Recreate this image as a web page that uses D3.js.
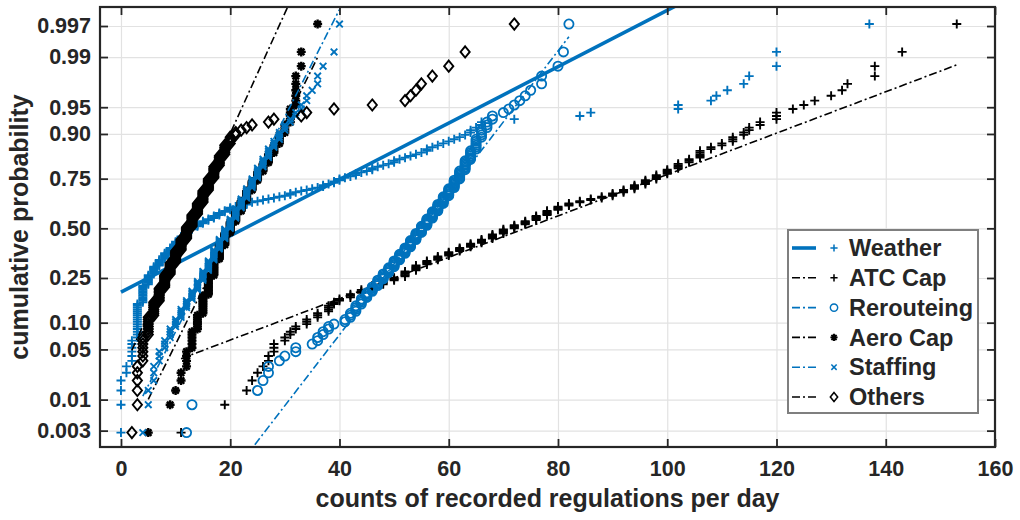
<!DOCTYPE html>
<html>
<head>
<meta charset="utf-8">
<script src="https://cdn.jsdelivr.net/npm/d3@7"></script>
<style>
  html, body { margin: 0; padding: 0; background: #fff; }
  text { font-family: "Liberation Sans", Arial, Helvetica, sans-serif; font-weight: bold; fill: #262626; }
</style>
</head>
<body>
<div id="chart"></div>
<script>
// Normal probability plot of daily regulation counts, one series per cause.
// Each series is kept as [count per day, number of days with that count].

const SERIES_NAMES = ["Weather", "ATC Cap", "Rerouteing", "Aero Cap", "Staffing", "Others"];

const weatherDays = [
  [0,4],[1,2],[2,6],[3,16],[4,12],[5,8],[6,7],[7,6],[8,6],[9,5],[10,6],[11,5],[12,6],
  [13,3],[14,3],[15,3],[16,2],[17,3],[18,3],[19,2],[20,3],[21,1],[22,1],[23,2],[24,1],
  [25,1],[26,1],[27,1],[28,1],[29,1],[30,1],[31,2],[32,1],[33,1],[34,1],[35,1],[36,1],
  [37,2],[38,1],[39,2],[40,2],[41,1],[42,1],[43,2],[44,1],[45,1],[46,2],[47,1],[48,1],
  [49,1],[50,2],[51,1],[52,1],[53,1],[54,1],[55,1],[56,2],[57,1],[58,1],[59,1],[60,1],
  [61,1],[62,1],[63,1],[64,2],[65,1],[66,2],[72,1],[84,1],[86,1],[102,2],[108,1],[109,1],
  [111,1],[114,1],[115,1],[120,2],[137,1]
];

const atcCapDays = [
  [11,1],[19,1],[23,1],[24,1],[25,1],[26,1],[27,2],[28,3],[30,2],[31,2],[32,2],[34,3],
  [36,3],[38,4],[39,2],[40,2],[42,3],[44,3],[46,3],[48,3],[50,3],[52,5],[54,5],[56,4],
  [58,4],[60,4],[62,4],[64,4],[66,4],[68,5],[70,5],[72,4],[74,4],[76,5],[78,5],[80,4],
  [82,3],[84,2],[86,2],[88,2],[90,3],[92,3],[94,4],[96,4],[98,4],[100,4],[102,4],[104,3],
  [106,5],[108,2],[110,2],[112,3],[114,2],[115,2],[117,2],[120,3],[123,1],[125,1],[127,1],
  [130,1],[132,1],[133,1],[138,2],[143,1],[153,1]
];

const reroutingDays = [
  [12,1],[13,1],[25,1],[26,1],[27,2],[29,1],[30,1],[32,2],[35,1],[36,2],[37,2],[38,2],
  [39,1],[41,2],[42,3],[43,4],[44,4],[45,4],[46,4],[47,5],[48,5],[49,5],[50,6],[51,6],
  [52,6],[53,7],[54,7],[55,7],[56,7],[57,7],[58,7],[59,7],[60,7],[61,7],[62,7],[63,7],
  [64,6],[65,6],[66,4],[67,3],[68,2],[70,1],[71,1],[72,1],[73,1],[74,1],[75,1],[77,2],
  [80,1],[81,1],[82,1]
];

const aeroCapDays = [
  [5,1],[9,1],[10,1],[11,2],[12,4],[13,6],[14,7],[15,11],[16,14],[17,14],[18,13],[19,12],
  [20,11],[21,10],[22,10],[23,9],[24,8],[25,7],[26,6],[27,6],[28,5],[29,5],[30,4],[31,5],
  [32,6],[33,2],[36,1]
];

const staffingDays = [
  [4,1],[5,2],[6,3],[7,3],[8,3],[9,4],[10,4],[11,5],[12,5],[13,6],[14,7],[15,8],[16,9],
  [17,10],[18,10],[19,10],[20,10],[21,10],[22,9],[23,9],[24,8],[25,8],[26,6],[27,6],
  [28,4],[29,4],[30,3],[31,2],[32,2],[33,2],[34,2],[35,1],[36,2],[37,1],[39,1],[40,1]
];

const othersDays = [
  [2,1],[3,5],[4,7],[5,8],[6,8],[7,9],[8,10],[9,10],[10,11],[11,11],[12,12],[13,12],
  [14,11],[15,11],[16,10],[17,9],[18,7],[19,6],[20,4],[21,2],[22,1],[23,1],[24,1],[27,1],
  [28,1],[33,1],[34,1],[39,1],[46,1],[52,1],[53,1],[54,1],[55,1],[57,1],[60,1],[63,1],[72,1]
];

const X_TICKS = [0, 20, 40, 60, 80, 100, 120, 140, 160];
const PROB_TICKS = [0.003, 0.01, 0.05, 0.10, 0.25, 0.50, 0.75, 0.90, 0.95, 0.99, 0.997];
const PROB_LABELS = ["0.003", "0.01", "0.05", "0.10", "0.25", "0.50", "0.75", "0.90", "0.95", "0.99", "0.997"];

const BLUE = "#0072bd";
const BLACK = "#000000";

const seriesDays = [weatherDays, atcCapDays, reroutingDays, aeroCapDays, staffingDays, othersDays];
const seriesColor = [BLUE, BLACK, BLUE, BLACK, BLUE, BLACK];
const seriesMarker = ["plus", "plus", "circle", "star", "cross", "diamond"];

// inverse of the standard normal cdf (Acklam)
function probit(p) {
  const a = [-3.969683028665376e+01, 2.209460984245205e+02, -2.759285104469687e+02, 1.383577518672690e+02, -3.066479806614716e+01, 2.506628277459239e+00];
  const b = [-5.447609879822406e+01, 1.615858368580409e+02, -1.556989798598866e+02, 6.680131188771972e+01, -1.328068155288572e+01];
  const c = [-7.784894002430293e-03, -3.223964580411365e-01, -2.400758277161838e+00, -2.549671064379195e+00, 4.374664141464968e+00, 2.938163982698783e+00];
  const d = [7.784695709041462e-03, 3.224671290700398e-01, 2.445134137142996e+00, 3.754408661907416e+00];
  const pLow = 0.02425;
  let q, r;
  if (p < pLow) {
    q = Math.sqrt(-2 * Math.log(p));
    return (((((c[0]*q+c[1])*q+c[2])*q+c[3])*q+c[4])*q+c[5]) / ((((d[0]*q+d[1])*q+d[2])*q+d[3])*q+1);
  }
  if (p <= 1 - pLow) {
    q = p - 0.5; r = q * q;
    return (((((a[0]*r+a[1])*r+a[2])*r+a[3])*r+a[4])*r+a[5])*q / (((((b[0]*r+b[1])*r+b[2])*r+b[3])*r+b[4])*r+1);
  }
  q = Math.sqrt(-2 * Math.log(1 - p));
  return -(((((c[0]*q+c[1])*q+c[2])*q+c[3])*q+c[4])*q+c[5]) / ((((d[0]*q+d[1])*q+d[2])*q+d[3])*q+1);
}

// expand [value, days] pairs into sorted daily values
function expand(pairs) {
  const out = [];
  pairs.forEach(([v, n]) => { for (let i = 0; i < n; i++) out.push(v); });
  return out.sort((a, b) => a - b);
}

// percentile the way matlab's prctile does it
function prctile(sorted, p) {
  const n = sorted.length;
  const pos = n * p + 0.5;
  if (pos <= 1) return sorted[0];
  if (pos >= n) return sorted[n - 1];
  const lo = Math.floor(pos);
  return sorted[lo - 1] + (pos - lo) * (sorted[lo] - sorted[lo - 1]);
}

function markerPath(type) {
  switch (type) {
    case "plus": return "M-4.5,0H4.5M0,-4.5V4.5";
    case "cross": return "M-3.3,-3.3L3.3,3.3M-3.3,3.3L3.3,-3.3";
    case "star": return "M-4.5,0H4.5M0,-4.5V4.5M-3.2,-3.2L3.2,3.2M-3.2,3.2L3.2,-3.2";
    case "diamond": return "M0,-5.6L4.6,0L0,5.6L-4.6,0Z";
    default: return null;
  }
}

function drawMarker(sel, type, color) {
  if (type === "circle") {
    sel.append("circle").attr("r", 4.6)
      .attr("fill", "none").attr("stroke", color).attr("stroke-width", 1.8);
  } else {
    sel.append("path").attr("d", markerPath(type))
      .attr("fill", "none").attr("stroke", color)
      .attr("stroke-width", type === "star" ? 2.4 : 1.9)
      .attr("stroke-linejoin", "miter");
  }
}

function initChart() {
  const width = 1020, height = 520;
  const plot = { left: 100, right: 995, top: 7, bottom: 447 };

  const svg = d3.select("#chart").append("svg")
    .attr("width", width).attr("height", height);

  const x = d3.scaleLinear().domain([-3.84, 160]).range([plot.left, plot.right]);
  const y = d3.scaleLinear().domain([-2.97, 3.006]).range([plot.bottom, plot.top]);
  const probTickZ = PROB_TICKS.map(probit);

  // grid
  const grid = svg.append("g").attr("class", "grid");
  grid.append("g")
    .attr("transform", `translate(0,${plot.bottom})`)
    .call(d3.axisBottom(x).tickValues(X_TICKS).tickSize(-(plot.bottom - plot.top)).tickFormat(""));
  grid.append("g")
    .attr("transform", `translate(${plot.left},0)`)
    .call(d3.axisLeft(y).tickValues(probTickZ).tickSize(-(plot.right - plot.left)).tickFormat(""));
  grid.selectAll("path.domain").remove();
  grid.selectAll("line").attr("stroke", "#e2e2e2").attr("stroke-width", 1.2);

  svg.append("clipPath").attr("id", "plot-clip")
    .append("rect")
    .attr("x", plot.left).attr("y", plot.top)
    .attr("width", plot.right - plot.left).attr("height", plot.bottom - plot.top);

  const dataLayer = svg.append("g").attr("clip-path", "url(#plot-clip)");

  seriesDays.forEach((pairs, s) => {
    const vals = expand(pairs);
    const n = vals.length;
    const pts = vals.map((v, i) => ({ v, z: probit((i + 0.5) / n) }));
    const color = seriesColor[s];

    const g = dataLayer.append("g").attr("class", "series");
    const marks = g.selectAll(".mark")
      .data(pts).enter()
      .append("g")
      .attr("transform", d => `translate(${x(d.v)},${y(d.z)})`);
    drawMarker(marks, seriesMarker[s], color);

    // reference line through the quartiles, spanning the data range
    const q1 = prctile(vals, 0.25), q3 = prctile(vals, 0.75);
    const zq1 = probit(0.25), zq3 = probit(0.75);
    const slope = (zq3 - zq1) / (q3 - q1);
    const zAt = v => zq1 + slope * (v - q1);
    const ends = [vals[0], vals[n - 1]];

    const line = g.append("line")
      .attr("x1", x(ends[0])).attr("y1", y(zAt(ends[0])))
      .attr("x2", x(ends[1])).attr("y2", y(zAt(ends[1])))
      .attr("stroke", color);
    if (s === 0) {
      line.attr("stroke-width", 3.6);
    } else {
      line.attr("stroke-width", 1.6).attr("stroke-dasharray", "8,3,2,3");
    }
  });

  // axes, ticks point inwards on all four sides
  const tickLen = 8;
  const xAxis = svg.append("g")
    .attr("transform", `translate(0,${plot.bottom})`)
    .call(d3.axisBottom(x).tickValues(X_TICKS).tickSize(-tickLen).tickPadding(14));
  const xTop = svg.append("g")
    .attr("transform", `translate(0,${plot.top})`)
    .call(d3.axisTop(x).tickValues(X_TICKS).tickSize(-tickLen).tickFormat(""));
  const yAxis = svg.append("g")
    .attr("transform", `translate(${plot.left},0)`)
    .call(d3.axisLeft(y).tickValues(probTickZ).tickSize(-tickLen).tickPadding(9)
      .tickFormat((d, i) => PROB_LABELS[i]));
  const yRight = svg.append("g")
    .attr("transform", `translate(${plot.right},0)`)
    .call(d3.axisRight(y).tickValues(probTickZ).tickSize(-tickLen).tickFormat(""));

  [xAxis, xTop, yAxis, yRight].forEach(a => {
    a.select("path.domain").remove();
    a.selectAll("line").attr("stroke", "#262626").attr("stroke-width", 1.8);
    a.selectAll("text").attr("font-size", 21.5).attr("fill", "#262626")
      .attr("font-family", "'Liberation Sans', Arial, sans-serif").attr("font-weight", "bold");
  });

  svg.append("rect")
    .attr("x", plot.left).attr("y", plot.top)
    .attr("width", plot.right - plot.left).attr("height", plot.bottom - plot.top)
    .attr("fill", "none").attr("stroke", "#262626").attr("stroke-width", 2.2);

  // axis titles
  svg.append("text")
    .attr("x", (plot.left + plot.right) / 2).attr("y", 507)
    .attr("text-anchor", "middle").attr("font-size", 25)
    .text("counts of recorded regulations per day");

  svg.append("text")
    .attr("transform", `translate(28,${(plot.top + plot.bottom) / 2}) rotate(-90)`)
    .attr("text-anchor", "middle").attr("font-size", 25)
    .text("cumulative probability");

  // legend
  const lg = svg.append("g").attr("class", "legend");
  lg.append("rect")
    .attr("x", 788).attr("y", 230).attr("width", 190).attr("height", 183)
    .attr("fill", "#fff").attr("stroke", "#7f7f7f").attr("stroke-width", 2);

  SERIES_NAMES.forEach((name, s) => {
    const row = lg.append("g").attr("transform", `translate(0,${248 + s * 29.8})`);
    const ln = row.append("line")
      .attr("x1", 792).attr("x2", 816).attr("y1", 0).attr("y2", 0)
      .attr("stroke", seriesColor[s]);
    if (s === 0) ln.attr("stroke-width", 3.6);
    else ln.attr("stroke-width", 1.6).attr("stroke-dasharray", "8,3,2,3");
    const m = row.append("g").attr("transform", "translate(834,0) scale(0.8)");
    drawMarker(m, seriesMarker[s], seriesColor[s]);
    row.append("text")
      .attr("x", 849).attr("dy", "0.35em")
      .attr("font-size", 23.5).attr("fill", "#000")
      .text(name);
  });
}

document.addEventListener("DOMContentLoaded", initChart);
</script>
</body>
</html>
